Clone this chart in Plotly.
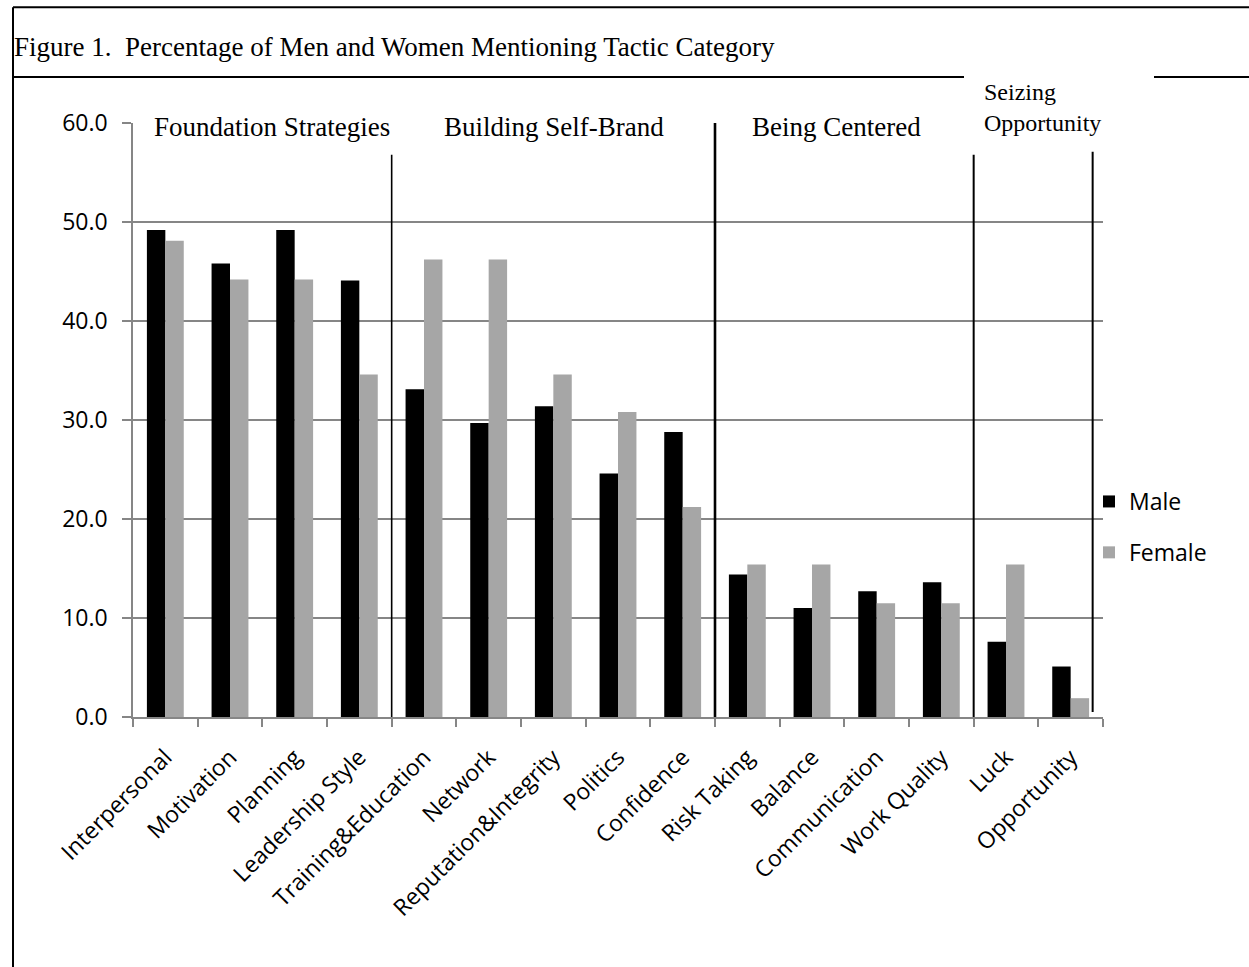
import plotly.graph_objects as go

categories = ["Interpersonal", "Motivation", "Planning", "Leadership Style",
              "Training&Education", "Network", "Reputation&Integrity", "Politics",
              "Confidence", "Risk Taking", "Balance", "Communication",
              "Work Quality", "Luck", "Opportunity"]
male = [49.2, 45.8, 49.2, 44.1, 33.1, 29.7, 31.4, 24.6, 28.8, 14.4, 11.0, 12.7, 13.6, 7.6, 5.1]
female = [48.1, 44.2, 44.2, 34.6, 46.2, 46.2, 34.6, 30.8, 21.2, 15.4, 15.4, 11.5, 11.5, 15.4, 1.9]
series_names = ["Male", "Female"]
y_ticks = [0, 10, 20, 30, 40, 50, 60]
title_text = "Figure 1.  Percentage of Men and Women Mentioning Tactic Category"
group_labels = ["Foundation Strategies", "Building Self-Brand", "Being Centered",
                "Seizing<br>Opportunity"]

W, H = 1249, 967
L, R, T, B = 133, 1103, 123, 717


def px2x(px):
    return (px - L) / (R - L)


def px2y(py):
    return (B - py) / (B - T)


fig = go.Figure()
fig.add_trace(go.Bar(x=categories, y=male, name=series_names[0], legendgroup="m",
                     marker=dict(color="#000000", line=dict(width=0))))
fig.add_trace(go.Bar(x=categories, y=female, name=series_names[1], legendgroup="f",
                     marker=dict(color="#a6a6a6", line=dict(width=0))))

axis_grey = "#868686"
tick_font = dict(family="Open Sans", size=23, color="#000000")

fig.update_layout(
    width=W, height=H,
    margin=dict(l=L, r=W - R, t=T, b=H - B, pad=0),
    paper_bgcolor="white", plot_bgcolor="white",
    barmode="group", bargap=0.43, bargroupgap=0,
    showlegend=True,
    legend=dict(x=px2x(1089), y=px2y(527), xanchor="left", yanchor="middle",
                font=dict(family="Open Sans", size=23, color="#000000"),
                tracegroupgap=18, bgcolor="rgba(0,0,0,0)", traceorder="grouped"),
    xaxis=dict(type="category", showgrid=False, showline=True, linecolor=axis_grey,
               linewidth=1.5, ticks="outside", tickson="boundaries", ticklen=8,
               tickcolor=axis_grey, tickwidth=1.5, tickangle=-45, tickfont=tick_font,
               ticklabelstandoff=16, range=[-0.5, 14.5]),
    yaxis=dict(range=[0, 60], tickvals=y_ticks, tickformat=".1f", showgrid=True,
               gridcolor=axis_grey, gridwidth=1.5, zeroline=False, showline=True,
               linecolor=axis_grey, linewidth=1.5, ticks="outside", ticklen=9,
               tickcolor=axis_grey, tickwidth=1.5, tickfont=tick_font,
               ticklabelstandoff=10),
)

shapes = []
# white boxes hiding most of the 60 gridline (text boxes in original)
for x0, x1 in [(134.5, 421), (424, 684), (730, 1106)]:
    shapes.append(dict(type="rect", xref="paper", yref="y", x0=px2x(x0), x1=px2x(x1),
                       y0=59.4, y1=60.6, fillcolor="white", line=dict(width=0),
                       layer="above"))
# vertical separators
for xv, y0, y1, w in [(3.5, 0, 56.8, 1.6), (8.5, 0, 60, 2.6), (12.5, 0, 56.8, 2),
                      (14.34, 0.5, 57.1, 2)]:
    shapes.append(dict(type="line", xref="x", yref="y", x0=xv, x1=xv, y0=y0, y1=y1,
                       line=dict(color="#000000", width=w), layer="above"))
# frame lines
frame = [((13, 7.3), (W + 2, 7.3)), ((13, 7.3), (13, H + 2)),
         ((13, 77), (964, 77)), ((1154, 77), (W + 2, 77))]
for (ax, ay), (bx, by) in frame:
    shapes.append(dict(type="line", xref="paper", yref="paper", x0=px2x(ax), y0=px2y(ay),
                       x1=px2x(bx), y1=px2y(by), line=dict(color="#000000", width=2),
                       layer="above"))
fig.update_layout(shapes=shapes)

serif = "Liberation Serif, Times New Roman, serif"
annotations = [
    dict(text=title_text, x=px2x(12), y=px2y(47), xanchor="left", yanchor="middle",
         font=dict(family=serif, size=27, color="#000000")),
    dict(text=group_labels[0], x=px2x(152), y=px2y(127), xanchor="left", yanchor="middle",
         font=dict(family=serif, size=27, color="#000000")),
    dict(text=group_labels[1], x=px2x(442), y=px2y(127), xanchor="left", yanchor="middle",
         font=dict(family=serif, size=27, color="#000000")),
    dict(text=group_labels[2], x=px2x(750), y=px2y(127), xanchor="left", yanchor="middle",
         font=dict(family=serif, size=27, color="#000000")),
    dict(text=group_labels[3], x=px2x(982), y=px2y(108), xanchor="left", yanchor="middle",
         align="left", font=dict(family=serif, size=24, color="#000000")),
]
for a in annotations:
    a.update(xref="paper", yref="paper", showarrow=False)
fig.update_layout(annotations=annotations)

fig.write_html("out.html")
